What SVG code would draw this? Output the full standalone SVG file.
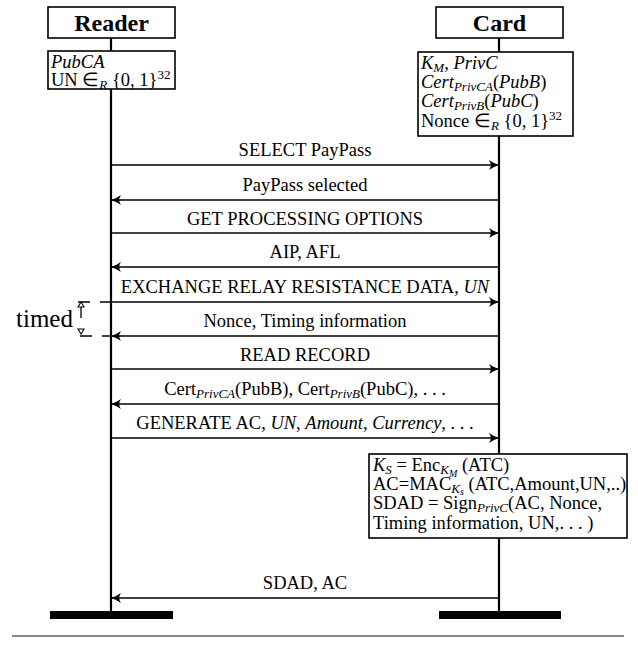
<svg xmlns="http://www.w3.org/2000/svg" width="638" height="654" viewBox="0 0 638 654">
<style>
text{font-family:"Liberation Serif","Times New Roman",serif;fill:#000}
.hd{font-size:24px;font-weight:bold;text-anchor:middle}
.t{font-size:18.5px}
.m{font-size:18.5px;text-anchor:middle}
.i{font-style:italic}
.s{font-size:13px}
.ss{font-size:10px}
.box{fill:#fff;stroke:#000;stroke-width:1.6}
.life{stroke:#000;stroke-width:2.2;fill:none}
.msg{stroke:#000;stroke-width:1.3;fill:none;marker-end:url(#ah)}
.bar{fill:#000}
.dash{stroke:#000;stroke-width:1.3;stroke-dasharray:12 10;fill:none}
</style>
<defs>
<marker id="ah" markerUnits="userSpaceOnUse" markerWidth="12" markerHeight="12" viewBox="-11 -6 12 12" refX="0" refY="0" orient="auto">
<path d="M0,0 Q-5,-1.5 -10,-5 Q-6.5,0 -10,5 Q-5,1.5 0,0 Z" fill="#000"/>
</marker>
</defs>
<rect width="638" height="654" fill="#fff"/>

<g id="lifelines">
<line class="life" x1="111" y1="38" x2="111" y2="614"/>
<line class="life" x1="499" y1="38" x2="499" y2="614"/>
</g>

<g id="reader">
<rect class="box" x="48" y="7" width="127" height="31"/>
<text class="hd" x="111.5" y="31">Reader</text>
<rect class="bar" x="50" y="611" width="123" height="8"/>
</g>

<g id="card">
<rect class="box" x="436" y="7" width="127" height="31"/>
<text class="hd" x="499.5" y="31">Card</text>
<rect class="bar" x="439" y="611" width="122" height="8"/>
</g>

<g id="reader-init">
<rect class="box" x="48" y="51" width="127" height="38"/>
<text class="t" x="51" y="68"><tspan class="i">PubCA</tspan></text>
<text class="t" x="51" y="86">UN ∈<tspan class="s i" dy="3">R</tspan><tspan dy="-3"> {0, 1}</tspan><tspan class="s" dy="-7">32</tspan></text>
</g>

<g id="card-init">
<rect class="box" x="418" y="52" width="155" height="84"/>
<text class="t" x="421" y="69"><tspan class="i">K</tspan><tspan class="s i" dy="3">M</tspan><tspan dy="-3">, </tspan><tspan class="i">PrivC</tspan></text>
<text class="t" x="421" y="88"><tspan class="i">Cert</tspan><tspan class="s i" dy="3">PrivCA</tspan><tspan dy="-3">(</tspan><tspan class="i">PubB</tspan>)</text>
<text class="t" x="421" y="107"><tspan class="i">Cert</tspan><tspan class="s i" dy="3">PrivB</tspan><tspan dy="-3">(</tspan><tspan class="i">PubC</tspan>)</text>
<text class="t" x="421" y="127">Nonce ∈<tspan class="s i" dy="3">R</tspan><tspan dy="-3"> {0, 1}</tspan><tspan class="s" dy="-7">32</tspan></text>
</g>

<g id="card-compute">
<rect class="box" x="369" y="454" width="258" height="84"/>
<text class="t" x="373" y="471"><tspan class="i">K</tspan><tspan class="s i" dy="3">S</tspan><tspan dy="-3"> = Enc</tspan><tspan class="s i" dy="3">K</tspan><tspan class="ss i" dy="3">M</tspan><tspan dy="-6"> (ATC)</tspan></text>
<text class="t" x="373" y="490">AC=MAC<tspan class="s i" dy="3">K</tspan><tspan class="ss i" dy="2">s</tspan><tspan dy="-5"> (ATC,Amount,UN,..)</tspan></text>
<text class="t" x="373" y="509">SDAD = Sign<tspan class="s i" dy="3">PrivC</tspan><tspan dy="-3">(AC, Nonce,</tspan></text>
<text class="t" x="373" y="529">Timing information, UN,. . . )</text>
</g>

<g id="timed">
<text x="16" y="327" style="font-size:25px">timed</text>
<line class="dash" x1="78" y1="302" x2="111" y2="302"/>
<line class="dash" x1="80" y1="336" x2="111" y2="336"/>
<line x1="81" y1="307" x2="81" y2="318" stroke="#000" stroke-width="1.3"/>
<polygon points="81,302 78,307 84,307" fill="#fff" stroke="#000" stroke-width="1.1"/>
<polygon points="78,329 84,329 81,334" fill="#fff" stroke="#000" stroke-width="1.1"/>
</g>

<g id="connectors">
<g id="m1"><line class="msg" x1="111" y1="165" x2="499" y2="165"/><text class="m" x="305" y="156">SELECT PayPass</text></g>
<g id="m2"><line class="msg" x1="499" y1="200" x2="111" y2="200"/><text class="m" x="305" y="191">PayPass selected</text></g>
<g id="m3"><line class="msg" x1="111" y1="233" x2="499" y2="233"/><text class="m" x="305" y="225">GET PROCESSING OPTIONS</text></g>
<g id="m4"><line class="msg" x1="499" y1="267" x2="111" y2="267"/><text class="m" x="305" y="258">AIP, AFL</text></g>
<g id="m5"><line class="msg" x1="111" y1="302" x2="499" y2="302"/><text class="m" x="305" y="293">EXCHANGE RELAY RESISTANCE DATA, <tspan class="i">UN</tspan></text></g>
<g id="m6"><line class="msg" x1="499" y1="336" x2="111" y2="336"/><text class="m" x="305" y="327">Nonce, Timing information</text></g>
<g id="m7"><line class="msg" x1="111" y1="369" x2="499" y2="369"/><text class="m" x="305" y="361">READ RECORD</text></g>
<g id="m8"><line class="msg" x1="499" y1="404" x2="111" y2="404"/><text class="m" x="305" y="395">Cert<tspan class="s i" dy="3">PrivCA</tspan><tspan dy="-3">(PubB), Cert</tspan><tspan class="s i" dy="3">PrivB</tspan><tspan dy="-3">(PubC), . . .</tspan></text></g>
<g id="m9"><line class="msg" x1="111" y1="438" x2="499" y2="438"/><text class="m" x="305" y="429">GENERATE AC, <tspan class="i">UN</tspan>, <tspan class="i">Amount</tspan>, <tspan class="i">Currency</tspan>, . . .</text></g>
<g id="m10"><line class="msg" x1="499" y1="598" x2="111" y2="598"/><text class="m" x="305" y="589">SDAD, AC</text></g>
</g>

<line x1="12" y1="636" x2="624" y2="636" stroke="#888" stroke-width="2"/>
</svg>
